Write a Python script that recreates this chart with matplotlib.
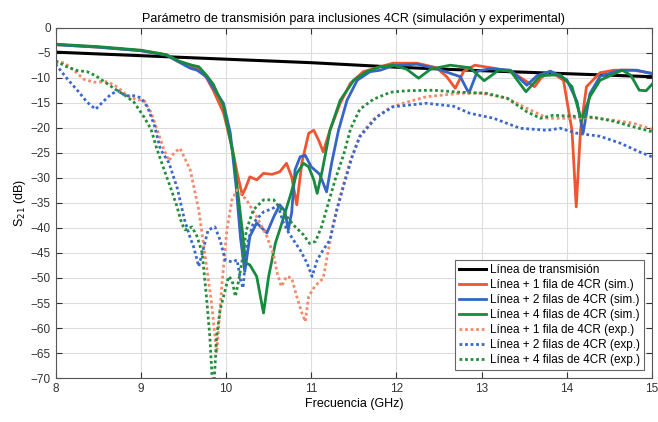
import numpy as np
import matplotlib
matplotlib.use("Agg")
import matplotlib.pyplot as plt

plt.rcParams['font.family'] = ['Liberation Sans', 'DejaVu Sans']

# linea de transmision sola
f_line = [8.0, 9.0, 10.0, 11.0, 12.0, 13.0, 14.0, 15.0]
s_line = [-4.9, -5.6, -6.3, -7.0, -7.9, -8.6, -9.2, -9.8]

# simulacion, 1 fila
f_sim1 = [8.0, 8.5, 9.0, 9.3, 9.45, 9.55, 9.68, 9.77, 9.85, 9.97, 10.07, 10.13, 10.19,
          10.23, 10.28, 10.36, 10.44, 10.54, 10.63, 10.71, 10.77, 10.83, 10.89, 10.97,
          11.03, 11.09, 11.14, 11.22, 11.34, 11.46, 11.61, 11.77, 11.96, 12.24, 12.47,
          12.59, 12.69, 12.79, 12.92, 13.14, 13.34, 13.53, 13.62, 13.7, 13.8, 13.96,
          14.06, 14.11, 14.16, 14.23, 14.39, 14.55, 14.78, 15.0]
s_sim1 = [-3.4, -3.9, -4.6, -5.4, -6.8, -7.5, -8.2, -10.0, -12.5, -17.0, -23.8, -29.0, -33.4,
          -32.0, -29.8, -30.4, -29.1, -29.3, -28.8, -27.1, -29.8, -35.4, -27.0, -21.1,
          -20.5, -22.6, -24.8, -20.5, -15.1, -11.1, -8.8, -8.0, -7.1, -7.1, -8.0,
          -9.8, -12.1, -8.7, -7.5, -8.1, -8.7, -10.8, -11.8, -10.0, -8.7, -10.5,
          -20.5, -35.8, -20.5, -11.8, -9.0, -8.5, -8.5, -9.1]

# simulacion, 2 filas
f_sim2 = [8.0, 8.5, 9.0, 9.3, 9.45, 9.58, 9.66, 9.77, 9.85, 9.97, 10.05, 10.12, 10.17,
          10.22, 10.28, 10.36, 10.48, 10.56, 10.63, 10.69, 10.73, 10.77, 10.81, 10.87,
          10.93, 11.0, 11.1, 11.18, 11.24, 11.32, 11.42, 11.54, 11.69, 11.81, 11.96,
          12.24, 12.47, 12.75, 12.85, 12.95, 13.1, 13.34, 13.53, 13.65, 13.81, 14.0,
          14.12, 14.19, 14.27, 14.39, 14.63, 14.82, 15.0]
s_sim2 = [-3.4, -3.9, -4.6, -5.5, -6.9, -8.1, -8.5, -9.8, -12.0, -15.1, -21.0, -32.0, -42.0,
          -48.7, -41.7, -39.0, -41.0, -37.8, -35.4, -36.6, -40.4, -37.0, -28.4, -25.8,
          -25.5, -27.8, -29.3, -32.8, -27.0, -20.5, -14.5, -10.5, -8.8, -8.5, -7.6,
          -7.3, -8.2, -9.8, -13.1, -8.7, -8.2, -8.5, -11.5, -9.6, -8.7, -10.4,
          -14.8, -21.1, -13.2, -9.7, -8.5, -8.5, -9.2]

# simulacion, 4 filas
f_sim4 = [8.0, 8.5, 9.0, 9.3, 9.45, 9.6, 9.68, 9.77, 9.85, 9.97, 10.09, 10.19, 10.23,
          10.28, 10.36, 10.44, 10.5, 10.58, 10.63, 10.75, 10.83, 10.91, 10.97, 11.03,
          11.07, 11.13, 11.22, 11.34, 11.5, 11.65, 11.81, 11.96, 12.12, 12.26, 12.4,
          12.63, 12.86, 13.03, 13.2, 13.34, 13.52, 13.69, 13.92, 14.06, 14.17, 14.27,
          14.39, 14.65, 14.75, 14.85, 14.93, 15.0]
s_sim4 = [-3.3, -3.8, -4.5, -5.4, -6.7, -7.5, -7.8, -9.5, -11.3, -15.7, -25.8, -40.4, -47.0,
          -47.4, -49.7, -57.0, -49.7, -43.0, -40.4, -33.8, -29.1, -27.1, -27.8, -30.4,
          -33.1, -28.5, -20.5, -14.5, -10.5, -8.8, -7.8, -7.5, -8.3, -10.1, -8.3,
          -7.5, -8.0, -10.6, -8.5, -8.7, -12.8, -9.6, -9.4, -11.8, -18.5, -13.8,
          -10.5, -8.5, -9.5, -12.5, -12.6, -11.3]

# experimental, 1 fila
f_exp1 = [8.0, 8.1, 8.22, 8.33, 8.45, 8.61, 8.73, 8.84, 8.94, 9.04, 9.12, 9.19, 9.27,
          9.33, 9.39, 9.46, 9.58, 9.68, 9.75, 9.83, 9.89, 9.95, 10.01, 10.07, 10.13,
          10.24, 10.36, 10.48, 10.56, 10.6, 10.65, 10.71, 10.77, 10.83, 10.89, 10.93,
          10.97, 11.03, 11.08, 11.14, 11.18, 11.26, 11.36, 11.46, 11.57, 11.73, 11.93,
          12.12, 12.35, 12.75, 13.0, 13.3, 13.53, 13.77, 14.0, 14.31, 14.55, 14.78, 15.0]
s_exp1 = [-7.0, -7.0, -8.6, -10.3, -10.9, -10.8, -11.9, -13.6, -14.3, -14.6, -16.9, -20.3, -24.3,
          -26.6, -25.0, -24.1, -28.4, -36.4, -45.0, -55.0, -65.0, -51.7, -40.4, -34.4, -32.4,
          -34.4, -37.8, -41.7, -45.5, -49.0, -51.7, -49.7, -50.0, -53.7, -57.0, -58.7,
          -53.7, -52.0, -51.0, -50.1, -46.4, -39.0, -32.4, -26.5, -21.6, -18.3, -15.9,
          -14.9, -13.8, -13.1, -13.1, -14.1, -16.1, -18.1, -18.1, -18.0, -18.5, -19.1, -20.3]

# experimental, 2 filas
f_exp2 = [8.0, 8.14, 8.26, 8.37, 8.47, 8.55, 8.65, 8.73, 8.82, 8.92, 9.0, 9.08, 9.16,
          9.23, 9.33, 9.43, 9.51, 9.58, 9.62, 9.68, 9.73, 9.79, 9.87, 9.93, 9.99, 10.07,
          10.13, 10.17, 10.2, 10.24, 10.32, 10.44, 10.52, 10.61, 10.67, 10.73, 10.79,
          10.87, 10.95, 11.01, 11.07, 11.14, 11.22, 11.3, 11.4, 11.48, 11.57, 11.77,
          11.96, 12.35, 12.67, 12.86, 13.14, 13.45, 13.77, 13.92, 14.12, 14.39, 14.63,
          14.85, 15.0]
s_exp2 = [-7.3, -10.3, -12.6, -14.9, -16.3, -14.9, -13.3, -12.6, -13.6, -13.6, -14.0, -15.9, -19.6,
          -24.3, -27.0, -32.2, -38.2, -42.0, -43.8, -47.7, -44.4, -40.4, -39.8, -42.4, -46.4, -46.8,
          -46.4, -50.4, -52.0, -43.8, -39.0, -36.8, -36.3, -35.6, -38.8, -40.8, -42.4,
          -44.4, -47.0, -49.7, -46.4, -44.4, -42.4, -36.4, -30.4, -25.8, -21.8, -17.8,
          -15.8, -15.1, -15.7, -17.1, -18.1, -20.1, -20.5, -20.1, -21.1, -21.7, -23.1,
          -24.8, -25.8]

# experimental, 4 filas
f_exp4 = [8.0, 8.14, 8.26, 8.37, 8.47, 8.58, 8.7, 8.82, 8.92, 9.04, 9.12, 9.19, 9.27,
          9.35, 9.42, 9.48, 9.52, 9.6, 9.66, 9.72, 9.77, 9.81, 9.85, 9.89, 9.93, 9.99,
          10.03, 10.07, 10.11, 10.15, 10.19, 10.24, 10.32, 10.44, 10.56, 10.67, 10.79,
          10.91, 10.98, 11.05, 11.12, 11.2, 11.28, 11.38, 11.46, 11.57, 11.73, 11.93,
          12.12, 12.43, 12.75, 13.05, 13.3, 13.53, 13.69, 13.84, 14.07, 14.31, 14.55,
          14.78, 15.0]
s_exp4 = [-6.6, -7.9, -8.6, -8.8, -9.6, -10.9, -12.3, -13.6, -14.9, -17.9, -20.3, -24.3, -28.2,
          -32.0, -35.5, -39.1, -40.4, -39.8, -41.7, -45.0, -53.7, -61.7, -74.0, -61.7, -56.4, -52.4,
          -49.7, -50.4, -53.7, -50.4, -46.4, -40.4, -36.4, -34.4, -34.4, -36.8, -39.4,
          -41.4, -43.1, -42.7, -39.8, -35.1, -30.4, -25.4, -20.3, -16.3, -14.3, -12.9,
          -12.6, -12.5, -12.9, -13.1, -14.1, -16.8, -18.1, -17.5, -17.7, -17.9, -18.7,
          -19.8, -20.8]

red = '#EE5530'
blue = '#3565C5'
green = '#168A3E'
red_e = '#F48A6A'
blue_e = '#3A68CC'
green_e = '#238E3A'

fig = plt.figure(figsize=(6.58, 4.22), dpi=100)
ax = fig.add_axes([0.0845, 0.104, 0.9065, 0.8305])

ax.plot(f_line, s_line, color='black', lw=2.2, label='Línea de transmisión')
ax.plot(f_sim1, s_sim1, color=red, lw=2.0, label='Línea + 1 fila de 4CR (sim.)')
ax.plot(f_sim2, s_sim2, color=blue, lw=2.0, label='Línea + 2 filas de 4CR (sim.)')
ax.plot(f_sim4, s_sim4, color=green, lw=2.0, label='Línea + 4 filas de 4CR (sim.)')
ax.plot(f_exp1, s_exp1, color=red_e, lw=2.0, ls=(0, (1, 1)), label='Línea + 1 fila de 4CR (exp.)')
ax.plot(f_exp2, s_exp2, color=blue_e, lw=2.0, ls=(0, (1, 1)), label='Línea + 2 filas de 4CR (exp.)')
ax.plot(f_exp4, s_exp4, color=green_e, lw=2.0, ls=(0, (1, 1)), label='Línea + 4 filas de 4CR (exp.)')

ax.set_xlim(8, 15)
ax.set_ylim(-70, 0)
ax.set_xticks(np.arange(8, 16, 1))
ax.set_yticks(np.arange(-70, 1, 5))
ax.grid(True, color='#dddddd', lw=0.8)
ax.set_axisbelow(True)
ax.tick_params(direction='in', top=True, right=True, labelsize=8.5, length=4, colors='#333333')
for sp in ax.spines.values():
    sp.set_color('#555555')
    sp.set_linewidth(0.8)

ax.set_title('Parámetro de transmisión para inclusiones 4CR (simulación y experimental)',
             fontsize=9, pad=4)
ax.set_xlabel('Frecuencia (GHz)', fontsize=9, labelpad=2)
ax.set_ylabel('S$_{21}$ (dB)', fontsize=9, labelpad=2)

leg = ax.legend(loc='lower right', fontsize=8.5, frameon=True, fancybox=False,
                edgecolor='#666666', framealpha=1, handlelength=2.3, handletextpad=0.3,
                labelspacing=0.25, borderpad=0.35, borderaxespad=0.7)
leg.get_frame().set_linewidth(0.8)

fig.savefig('out.png', dpi=100)
